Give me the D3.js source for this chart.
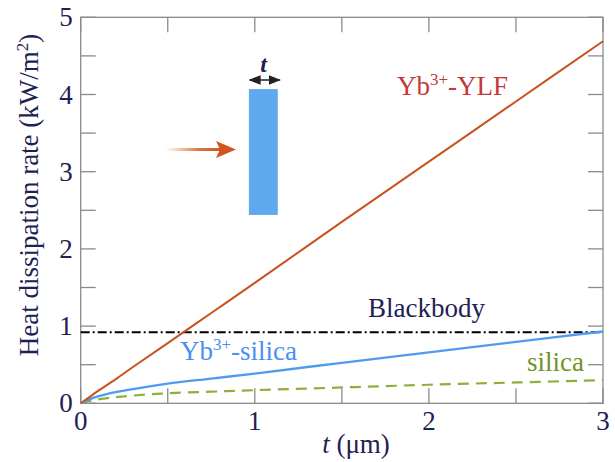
<!DOCTYPE html>
<html>
<head>
<meta charset="utf-8">
<script src="https://cdn.jsdelivr.net/npm/d3@7"></script>
<style>
  body { margin: 0; background: #fff; }
</style>
</head>
<body>
<svg id="chart" width="615" height="462" font-family="'Liberation Serif', 'DejaVu Serif', serif"></svg>
<script>
var tValues = [0, 0.05, 0.1, 0.2, 0.3, 0.5, 0.75, 1, 1.5, 2, 2.5, 3]
var ylf = [0, 0.08, 0.16, 0.31, 0.47, 0.78, 1.17, 1.56, 2.35, 3.13, 3.91, 4.69]
var ybSilica = [0, 0.05, 0.09, 0.145, 0.185, 0.255, 0.32, 0.385, 0.525, 0.66, 0.795, 0.93]
var silica = [0, 0.03, 0.05, 0.08, 0.10, 0.13, 0.15, 0.17, 0.205, 0.24, 0.27, 0.30]
var blackbody = 0.92

var xTicks = [0, 1, 2, 3]
var yTicks = [0, 1, 2, 3, 4, 5]

var navy = '#1d2154'
var margin = { left: 80.7, right: 12, top: 17.3, bottom: 58.7 }
var width = 615, height = 462

var svg = d3.select('#chart')

var x = d3.scaleLinear().domain([0, 3]).range([margin.left, width - margin.right])
var y = d3.scaleLinear().domain([0, 5]).range([height - margin.bottom, margin.top])

renderFrame(svg)
renderSeries(svg)
renderLabels(svg)
renderInset(svg)

function renderFrame (svg) {
  var minorX = d3.range(0, 3.01, 0.5)
  var minorY = d3.range(0, 5.01, 0.5)
  var tickLen = 15
  var g = svg.append('g').attr('class', 'frame')
      .attr('stroke', '#8a8a8a')
      .attr('stroke-width', 1.3)

  g.selectAll('.tb').data(minorX).join('line')
      .attr('x1', d => x(d)).attr('x2', d => x(d))
      .attr('y1', y(0)).attr('y2', y(0) - tickLen)
  g.selectAll('.tt').data(minorX).join('line')
      .attr('x1', d => x(d)).attr('x2', d => x(d))
      .attr('y1', y(5)).attr('y2', y(5) + tickLen)
  g.selectAll('.tl').data(minorY).join('line')
      .attr('x1', x(0)).attr('x2', x(0) + tickLen)
      .attr('y1', d => y(d)).attr('y2', d => y(d))
  g.selectAll('.tr').data(minorY).join('line')
      .attr('x1', x(3)).attr('x2', x(3) - tickLen)
      .attr('y1', d => y(d)).attr('y2', d => y(d))

  g.append('rect')
      .attr('x', x(0)).attr('y', y(5))
      .attr('width', x(3) - x(0)).attr('height', y(0) - y(5))
      .attr('fill', 'none')

  svg.append('g').selectAll('text').data(xTicks).join('text')
      .attr('x', d => x(d))
      .attr('y', y(0) + 27)
      .attr('text-anchor', 'middle')
      .attr('font-size', 27)
      .attr('fill', navy)
      .text(d => d)

  svg.append('g').selectAll('text').data(yTicks).join('text')
      .attr('x', x(0) - 8)
      .attr('y', d => y(d) + 9)
      .attr('text-anchor', 'end')
      .attr('font-size', 27)
      .attr('fill', navy)
      .text(d => d)

  var xt = svg.append('text')
      .attr('x', 356)
      .attr('y', 453)
      .attr('text-anchor', 'middle')
      .attr('font-size', 27)
      .attr('fill', navy)
  xt.append('tspan').attr('font-style', 'italic').text('t')
  xt.append('tspan').text(' (μm)')

  var yt = svg.append('text')
      .attr('transform', 'translate(38, 195) rotate(-90)')
      .attr('text-anchor', 'middle')
      .attr('font-size', 27)
      .attr('fill', navy)
  yt.append('tspan').text('Heat dissipation rate (kW/m')
  yt.append('tspan').attr('font-size', 17).attr('dy', -10).text('2')
  yt.append('tspan').attr('dy', 10).text(')')
}

function renderSeries (svg) {
  var line = d3.line()
      .x(d => x(d[0]))
      .y(d => y(d[1]))
      .curve(d3.curveCatmullRom.alpha(0.5))

  svg.append('line')
      .attr('x1', x(0)).attr('x2', x(3))
      .attr('y1', y(blackbody)).attr('y2', y(blackbody))
      .attr('stroke', '#000')
      .attr('stroke-width', 2)
      .attr('stroke-dasharray', '9 3 2 3')

  svg.append('path')
      .attr('d', line(d3.zip(tValues, silica)))
      .attr('fill', 'none')
      .attr('stroke', '#8db03d')
      .attr('stroke-width', 2.2)
      .attr('stroke-dasharray', '11 7')

  svg.append('path')
      .attr('d', line(d3.zip(tValues, ybSilica)))
      .attr('fill', 'none')
      .attr('stroke', '#4f9bf2')
      .attr('stroke-width', 2.3)

  svg.append('path')
      .attr('d', line(d3.zip(tValues, ylf)))
      .attr('fill', 'none')
      .attr('stroke', '#c9521f')
      .attr('stroke-width', 2)
}

function renderLabels (svg) {
  function label (px, py, color, parts) {
    var t = svg.append('text')
        .attr('x', px).attr('y', py)
        .attr('font-size', 27)
        .attr('fill', color)
    t.append('tspan').text(parts[0])
    if (parts.length > 1) {
      t.append('tspan').attr('font-size', 17).attr('dy', -10).text(parts[1])
      t.append('tspan').attr('dy', 10).text(parts[2])
    }
  }
  label(397, 95, '#c3383a', ['Yb', '3+', '-YLF'])
  label(368, 317, navy, ['Blackbody'])
  label(180, 360, '#4a8ff0', ['Yb', '3+', '-silica'])
  label(527, 371, '#6f932a', ['silica'])
}

function renderInset (svg) {
  var defs = svg.append('defs')
  var grad = defs.append('linearGradient').attr('id', 'beam')
  grad.append('stop').attr('offset', '0%').attr('stop-color', '#e07a30').attr('stop-opacity', 0)
  grad.append('stop').attr('offset', '60%').attr('stop-color', '#d4682a').attr('stop-opacity', 0.9)
  grad.append('stop').attr('offset', '100%').attr('stop-color', '#d2541f')

  defs.append('marker')
      .attr('id', 'tip')
      .attr('viewBox', '0 0 10 10')
      .attr('refX', 9).attr('refY', 5)
      .attr('markerWidth', 6).attr('markerHeight', 6)
      .attr('orient', 'auto-start-reverse')
    .append('path')
      .attr('d', 'M0,1 L10,5 L0,9 Z')
      .attr('fill', '#222')

  // the slab of thickness t
  svg.append('rect')
      .attr('x', x(0.966)).attr('y', y(4.07))
      .attr('width', x(1.132) - x(0.966))
      .attr('height', y(2.44) - y(4.07))
      .attr('fill', '#5fa9ee')

  svg.append('line')
      .attr('x1', x(0.966) + 1).attr('x2', x(1.132) + 2)
      .attr('y1', 80).attr('y2', 80)
      .attr('stroke', '#555')
      .attr('stroke-width', 2)
      .attr('marker-start', 'url(#tip)')
      .attr('marker-end', 'url(#tip)')

  svg.append('text')
      .attr('x', x(1.05)).attr('y', 72)
      .attr('text-anchor', 'middle')
      .attr('font-size', 24)
      .attr('font-style', 'italic')
      .attr('font-weight', 'bold')
      .attr('fill', navy)
      .text('t')

  // incoming beam
  svg.append('rect')
      .attr('x', 165).attr('y', 148)
      .attr('width', 56).attr('height', 3)
      .attr('fill', 'url(#beam)')
  svg.append('path')
      .attr('d', 'M216,141 L236,149.5 L216,158 L220,149.5 Z')
      .attr('fill', '#d2541f')
}
</script>
</body>
</html>
